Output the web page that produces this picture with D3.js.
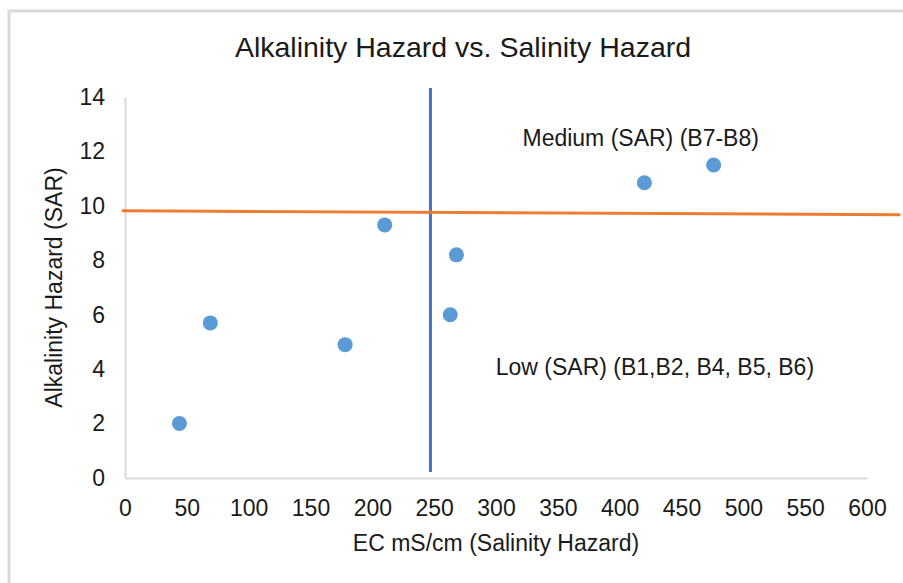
<!DOCTYPE html>
<html>
<head>
<meta charset="utf-8">
<script src="https://cdn.jsdelivr.net/npm/d3@7"></script>
<style>
  body { margin: 0; background: #fff; }
  text { font-family: "Liberation Sans", Arial, sans-serif; fill: #1a1a1a; }
</style>
</head>
<body>
<div id="app"></div>
<script>
// sample points (EC, SAR)
const ecValues = [44, 69, 178, 210, 263, 268, 420, 476];
const sarValues = [2.0, 5.7, 4.9, 9.3, 6.0, 8.2, 10.85, 11.5];

// threshold lines
const salinityLineX = [247, 247];
const salinityLineY = [0.22, 14.33];
const alkalinityLineX = [-2.5, 627];
const alkalinityLineY = [9.82, 9.67];

const xTicks = d3.range(0, 601, 50);
const yTicks = d3.range(0, 15, 2);

const labels = [
  { text: "Medium (SAR) (B7-B8)", x: 417, y: 12.2 },
  { text: "Low (SAR) (B1,B2, B4, B5, B6)", x: 428.5, y: 3.8 }
];

const width = 903, height = 583;
const margin = { left: 125, right: 36, top: 97, bottom: 105 };

const svg = d3.select("#app").append("svg")
  .attr("width", width)
  .attr("height", height);

// chart frame
svg.append("rect")
  .attr("x", 9).attr("y", 11)
  .attr("width", width).attr("height", height)
  .style("fill", "none")
  .style("stroke", "#d9d9d9")
  .style("stroke-width", 3);

const x = d3.scaleLinear().domain([0, 600]).range([margin.left, width - margin.right]);
const y = d3.scaleLinear().domain([0, 14]).range([height - margin.bottom, margin.top]);

// title
svg.append("text")
  .attr("x", 463).attr("y", 57)
  .attr("text-anchor", "middle")
  .style("font-size", "28.5px")
  .text("Alkalinity Hazard vs. Salinity Hazard");

// axes
const xAxis = svg.append("g")
  .attr("transform", `translate(0,${y(0)})`)
  .call(d3.axisBottom(x).tickValues(xTicks).tickSize(0).tickPadding(22));
const yAxis = svg.append("g")
  .attr("transform", `translate(${x(0)},0)`)
  .call(d3.axisLeft(y).tickValues(yTicks).tickSize(0).tickPadding(20));

[xAxis, yAxis].forEach((g) => {
  g.select(".domain").style("stroke", "#d9d9d9").style("stroke-width", 2);
  g.selectAll("text")
    .style("font-size", "23px")
    .style("fill", "#1a1a1a")
    .style("font-family", "'Liberation Sans', Arial, sans-serif");
});

// axis titles
svg.append("text")
  .attr("x", (x(0) + x(600)) / 2).attr("y", 551)
  .attr("text-anchor", "middle")
  .style("font-size", "23px")
  .text("EC mS/cm (Salinity Hazard)");

svg.append("text")
  .attr("transform", `translate(62,${(y(0) + y(14)) / 2}) rotate(-90)`)
  .attr("text-anchor", "middle")
  .style("font-size", "23px")
  .text("Alkalinity Hazard (SAR)");

const line = d3.line().x((d) => x(d[0])).y((d) => y(d[1]));

// salinity threshold (vertical)
svg.append("path")
  .datum(d3.zip(salinityLineX, salinityLineY))
  .attr("d", line)
  .style("fill", "none")
  .style("stroke", "#4472c4")
  .style("stroke-width", 3);

// alkalinity threshold (horizontal)
svg.append("path")
  .datum(d3.zip(alkalinityLineX, alkalinityLineY))
  .attr("d", line)
  .style("fill", "none")
  .style("stroke", "#ed7d31")
  .style("stroke-width", 3);

// points
svg.selectAll(".pt")
  .data(d3.zip(ecValues, sarValues))
  .enter()
  .append("circle")
  .classed("pt", true)
  .attr("cx", (d) => x(d[0]))
  .attr("cy", (d) => y(d[1]))
  .attr("r", 7.5)
  .style("fill", "#5b9bd5");

// annotations
svg.selectAll(".note")
  .data(labels)
  .enter()
  .append("text")
  .classed("note", true)
  .attr("x", (d) => x(d.x))
  .attr("y", (d) => y(d.y))
  .attr("text-anchor", "middle")
  .style("font-size", "23px")
  .text((d) => d.text);
</script>
</body>
</html>
